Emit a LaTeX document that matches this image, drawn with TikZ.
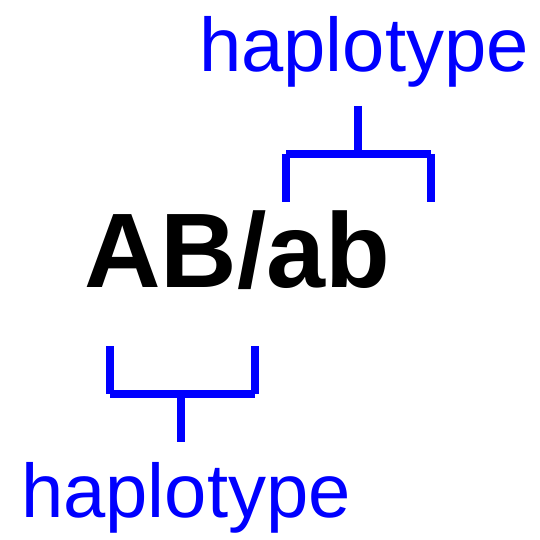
\documentclass[tikz,border=0pt]{standalone}
\usepackage{fontspec}
\usepackage{tikz}
\usetikzlibrary{positioning}
\setmainfont{Liberation Sans}
\definecolor{hapblue}{RGB}{0, 0, 255}

\begin{document}
\begin{tikzpicture}[
  x=1pt, y=1pt,
  geno/.style = {inner sep=0pt, anchor=base west, font=\fontsize{106}{106}\selectfont\bfseries},
  hap/.style  = {inner sep=0pt, anchor=base west, text=hapblue, font=\fontsize{76}{76}\selectfont},
  brk/.style  = {draw=hapblue, line width=8.6pt, line cap=butt}
]
\useasboundingbox (0,0) rectangle (539,540);

\node[geno] (G) at (84,252) {AB/ab};
\node[hap]  (H1) at (199,468) {haplotype};
\node[hap]  (H2) at (21,22) {haplotype};

% top bracket (over ab)
\coordinate (T1) at (286,386);
\coordinate (T2) at (431,386);
\coordinate (TS) at (358,434);
\draw[brk] (T1) -- (T2);
\draw[brk] (T1) -- ++(0,-48);
\draw[brk] (T2) -- ++(0,-48);
\draw[brk] (TS) -- (TS |- T1);

% bottom bracket (under AB)
\coordinate (B1) at (110,146);
\coordinate (B2) at (255,146);
\coordinate (BS) at (181,98);
\draw[brk] (B1) -- (B2);
\draw[brk] (B1) -- ++(0,48);
\draw[brk] (B2) -- ++(0,48);
\draw[brk] (BS) -- (BS |- B1);

\end{tikzpicture}
\end{document}
